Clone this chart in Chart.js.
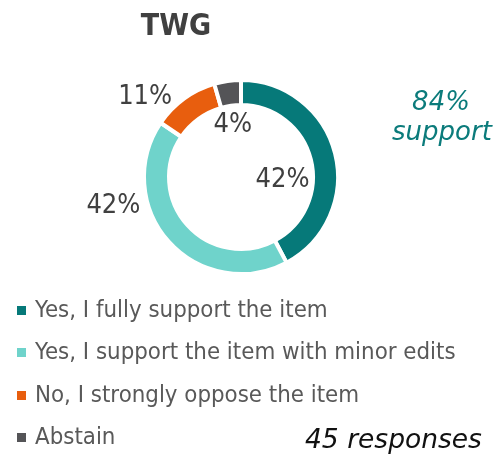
<!DOCTYPE html>
<html>
<head>
<meta charset="utf-8">
<script src="https://cdn.jsdelivr.net/npm/chart.js@4.4.0/dist/chart.umd.min.js"></script>
<style>
  html, body { margin: 0; padding: 0; background: #fff; }
  #wrap { position: relative; width: 495px; height: 456px; overflow: hidden; }
  #wrap canvas { position: absolute; left: 0; top: 0; }
  .t { position: absolute; white-space: nowrap; line-height: 1; }
  .cond { font-family: "DejaVu Sans Condensed", "DejaVu Sans", sans-serif; font-stretch: condensed; }
  .ital { font-family: "DejaVu Sans", sans-serif; font-style: italic; }
  .sq { position: absolute; width: 9px; height: 9px; }
</style>
</head>
<body>
<div id="wrap">
  <canvas id="c" width="495" height="456" style="width:495px;height:456px;"></canvas>
  <div class="t cond" id="title" style="left:76px; width:200px; text-align:center; top:10px; font-size:30px; font-weight:bold; color:#404040;">TWG</div>
  <div class="t ital" style="left:381px; width:120px; text-align:center; top:88px; font-size:26px; color:#0b7b7b;">84%</div>
  <div class="t ital" style="left:382px; width:120px; text-align:center; top:118px; font-size:26px; color:#0b7b7b;">support</div>
  <div class="t ital" style="left:305px; top:426px; font-size:26.5px; color:#111;">45 responses</div>
  <div id="legend"></div>
</div>
<script>
const categories = [
  "Yes, I fully support the item",
  "Yes, I support the item with minor edits",
  "No, I strongly oppose the item",
  "Abstain"
];
const responses = [19, 19, 5, 2];
const colors = ["#067979", "#6fd3cb", "#e85e0e", "#545457"];

// label placement relative to each arc (angle shift from mid-angle in degrees, distance as fraction of outer radius)
const labelPlacement = [
  { shift: 18, dist: 0.43 },
  { shift: 29, dist: 1.35 },
  { shift: -14, dist: 1.29 },
  { shift: -1, dist: 0.54 }
];

const total = responses.reduce((a, b) => a + b, 0);

const pctLabels = {
  id: 'pctLabels',
  afterDatasetsDraw(chart) {
    const ctx = chart.ctx;
    const meta = chart.getDatasetMeta(0);
    ctx.save();
    ctx.font = '27px "DejaVu Sans Condensed", "DejaVu Sans", sans-serif';
    ctx.fillStyle = '#404040';
    ctx.textAlign = 'center';
    ctx.textBaseline = 'middle';
    meta.data.forEach((arc, i) => {
      const p = arc.getProps(['x', 'y', 'startAngle', 'endAngle', 'outerRadius'], true);
      const mid = (p.startAngle + p.endAngle) / 2 + labelPlacement[i].shift * Math.PI / 180;
      const r = p.outerRadius * labelPlacement[i].dist;
      const x = p.x + Math.cos(mid) * r;
      const y = p.y + Math.sin(mid) * r;
      const pct = Math.round(responses[i] / total * 100) + '%';
      ctx.fillText(pct, x, y);
    });
    ctx.restore();
  }
};

const chart = new Chart(document.getElementById('c'), {
  type: 'doughnut',
  data: {
    labels: categories,
    datasets: [{
      data: responses,
      backgroundColor: colors,
      borderColor: '#ffffff',
      borderWidth: 4,
      hoverOffset: 0
    }]
  },
  options: {
    responsive: false,
    animation: false,
    radius: 97,
    cutout: '74.2%',
    layout: { padding: { left: 141, right: 154, top: 77, bottom: 179 } },
    plugins: {
      legend: { display: false },
      title: { display: false },
      tooltip: { enabled: false }
    }
  },
  plugins: [pctLabels]
});

// Legend built from the same categories & colors
const legend = document.getElementById('legend');
const baselines0 = 318, step = 42.4;
categories.forEach((c, i) => {
  const base = baselines0 + step * i;
  const sq = document.createElement('div');
  sq.className = 'sq';
  sq.style.left = '17px';
  sq.style.top = (base - 12) + 'px';
  sq.style.background = colors[i];
  legend.appendChild(sq);
  const t = document.createElement('div');
  t.className = 't cond';
  t.style.left = '35px';
  t.style.top = (base - 20) + 'px';
  t.style.fontSize = '23.8px';
  t.style.color = '#595959';
  t.textContent = c;
  legend.appendChild(t);
});
</script>
</body>
</html>
